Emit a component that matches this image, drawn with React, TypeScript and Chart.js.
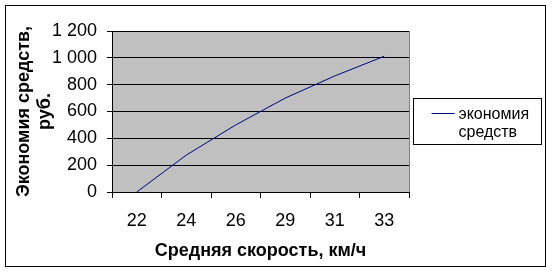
import React, { useEffect, useRef } from 'react';
import { Chart, registerables } from 'chart.js';

Chart.register(...registerables);

// ---- data ----
const categories: string[] = ['22', '24', '26', '29', '31', '33'];
const savings: number[] = [0, 275, 500, 700, 865, 1012];
const seriesLabel = 'экономия средств';
const xTitle = 'Средняя скорость, км/ч';
const yTitle: string[] = ['Экономия средств,', 'руб.'];
const yMin = 0;
const yMax = 1200;
const yStep = 200;

const FONT = '"Liberation Sans", Arial, sans-serif';

const fmt = (v: number) => String(v).replace(/\B(?=(\d{3})+(?!\d))/g, ' ');

const framePlugin = {
  id: 'frame',
  beforeDraw(chart: any) {
    const { ctx, chartArea: a, width, height } = chart;
    ctx.save();
    ctx.fillStyle = '#ffffff';
    ctx.fillRect(0, 0, width, height);
    ctx.fillStyle = '#C0C0C0';
    ctx.fillRect(a.left, a.top, a.right - a.left, a.bottom - a.top);
    ctx.strokeStyle = '#808080';
    ctx.lineWidth = 1;
    ctx.beginPath();
    ctx.moveTo(Math.round(a.right) + 0.5, a.top);
    ctx.lineTo(Math.round(a.right) + 0.5, a.bottom);
    ctx.stroke();
    // outer frame
    ctx.strokeStyle = '#000000';
    ctx.lineWidth = 1;
    ctx.strokeRect(5.5, 5.5, 540, 261);
    ctx.restore();
  },
  afterDraw(chart: any) {
    const { ctx, chartArea: a } = chart;
    const ds = chart.data.datasets[0];
    const words: string[] = String(ds.label).split(' ');
    const bx = Math.round(a.right) + 4.5;
    const by = 98.5;
    ctx.save();
    ctx.fillStyle = '#ffffff';
    ctx.fillRect(bx, by, 128, 46);
    ctx.strokeStyle = '#000000';
    ctx.lineWidth = 1;
    ctx.strokeRect(bx, by, 128, 46);
    ctx.strokeStyle = ds.borderColor;
    ctx.beginPath();
    ctx.moveTo(bx + 18, by + 15);
    ctx.lineTo(bx + 41, by + 15);
    ctx.stroke();
    ctx.fillStyle = '#000000';
    ctx.font = `16px ${FONT}`;
    ctx.textBaseline = 'alphabetic';
    ctx.textAlign = 'left';
    words.forEach((w, i) => {
      ctx.fillText(w, bx + 45, by + 20 + i * 18.5);
    });
    ctx.restore();
  },
};

export default function App() {
  const ref = useRef<HTMLCanvasElement | null>(null);

  useEffect(() => {
    document.body.style.margin = '0';
    const canvas = ref.current;
    if (!canvas) return;
    const chart = new Chart(canvas, {
      type: 'line',
      data: {
        labels: categories,
        datasets: [
          {
            label: seriesLabel,
            data: savings,
            borderColor: '#000080',
            backgroundColor: '#000080',
            borderWidth: 1,
            pointRadius: 0,
            tension: 0,
            fill: false,
          },
        ],
      },
      options: {
        animation: false,
        responsive: false,
        maintainAspectRatio: false,
        devicePixelRatio: 1,
        layout: { padding: { left: 0, top: 31, right: 143, bottom: 0 } },
        plugins: {
          legend: { display: false },
          tooltip: { enabled: false },
        },
        scales: {
          x: {
            type: 'category',
            offset: true,
            grid: {
              offset: true,
              drawOnChartArea: false,
              drawTicks: true,
              tickLength: 6,
              tickColor: '#000000',
              color: '#000000',
            },
            border: { color: '#000000', width: 1 },
            ticks: {
              color: '#000000',
              font: { family: FONT, size: 18 },
              padding: 12,
              maxRotation: 0,
              autoSkip: false,
            },
            title: {
              display: true,
              text: xTitle,
              color: '#000000',
              font: { family: FONT, size: 18, weight: 'bold' },
              padding: { top: 0, bottom: 11 },
            },
            afterFit(s: any) {
              s.height = 81;
            },
          },
          y: {
            min: yMin,
            max: yMax,
            ticks: {
              stepSize: yStep,
              color: '#000000',
              font: { family: FONT, size: 18 },
              padding: 10,
              callback: (v: any) => fmt(Number(v)),
            },
            grid: {
              color: '#000000',
              tickLength: 5,
              tickColor: '#000000',
              lineWidth: 1,
            },
            border: { color: '#000000', width: 1 },
            title: {
              display: true,
              text: yTitle,
              color: '#000000',
              font: { family: FONT, size: 18, weight: 'bold' },
              padding: { top: 13, bottom: 0 },
            },
            afterFit(s: any) {
              s.width = 112;
            },
          },
        },
      },
      plugins: [framePlugin],
    } as any);
    return () => chart.destroy();
  }, []);

  return (
    <div style={{ width: 552, height: 273 }}>
      <canvas ref={ref} width={552} height={273} style={{ display: 'block' }} />
    </div>
  );
}
